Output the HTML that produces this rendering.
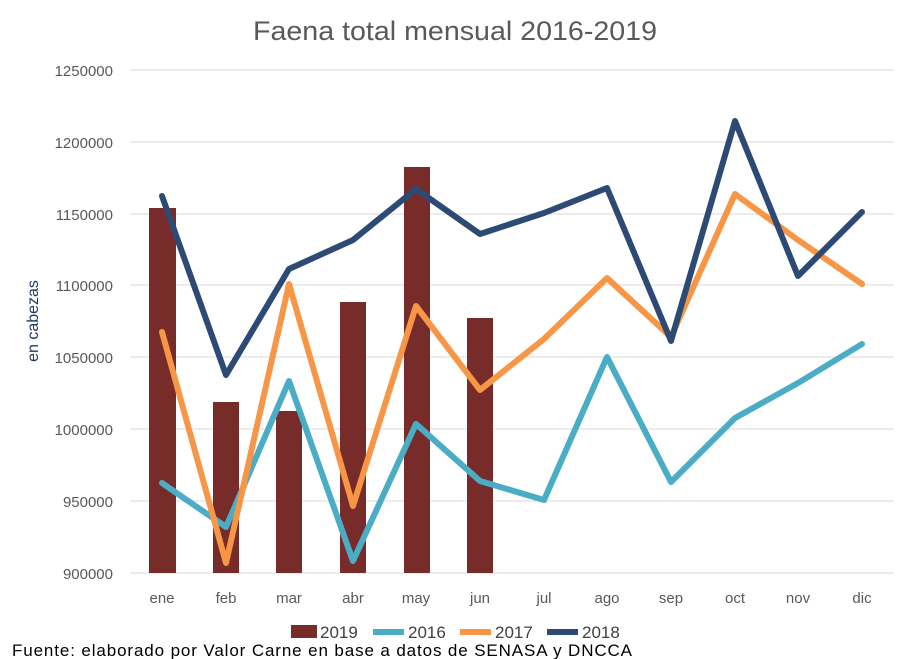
<!DOCTYPE html>
<html><head><meta charset="utf-8"><style>
body{margin:0;background:#fff;}
svg{display:block;font-family:"Liberation Sans",sans-serif;}
</style></head><body>
<svg width="909" height="659" viewBox="0 0 909 659">
<rect width="909" height="659" fill="#fff"/>
<text x="253" y="40" font-size="27" fill="#595959" textLength="404" lengthAdjust="spacingAndGlyphs">Faena total mensual 2016-2019</text>
<g stroke="#d9d9d9" stroke-width="1">
<line x1="130" x2="894" y1="70" y2="70"/><line x1="130" x2="894" y1="142" y2="142"/>
<line x1="130" x2="894" y1="214" y2="214"/><line x1="130" x2="894" y1="285" y2="285"/>
<line x1="130" x2="894" y1="357" y2="357"/><line x1="130" x2="894" y1="429" y2="429"/>
<line x1="130" x2="894" y1="501" y2="501"/><line x1="130" x2="894" y1="573" y2="573"/>
</g>
<g font-size="15" fill="#595959" text-anchor="end">
<text x="113" y="76">1250000</text><text x="113" y="148">1200000</text>
<text x="113" y="220">1150000</text><text x="113" y="291">1100000</text>
<text x="113" y="363">1050000</text><text x="113" y="435">1000000</text>
<text x="113" y="507">950000</text><text x="113" y="579">900000</text>
</g>
<text transform="translate(38,321) rotate(-90)" text-anchor="middle" font-size="16" fill="#1f3864">en cabezas</text>
<g font-size="15" fill="#595959" text-anchor="middle">
<text x="162" y="603">ene</text><text x="226" y="603">feb</text><text x="289" y="603">mar</text>
<text x="353" y="603">abr</text><text x="416" y="603">may</text><text x="480" y="603">jun</text>
<text x="544" y="603">jul</text><text x="607" y="603">ago</text><text x="671" y="603">sep</text>
<text x="735" y="603">oct</text><text x="798" y="603">nov</text><text x="862" y="603">dic</text>
</g>
<g fill="#772c2a">
<rect x="149" y="208" width="27" height="365"/><rect x="213" y="402" width="26" height="171"/>
<rect x="276" y="411" width="26" height="162"/><rect x="340" y="302" width="26" height="271"/>
<rect x="404" y="167" width="26" height="406"/><rect x="467" y="318" width="26" height="255"/>
</g>
<g fill="none" stroke-width="6" stroke-linejoin="round" stroke-linecap="round">
<polyline stroke="#4bacc6" points="162,483 226,527 289,381 353,561 416,424 480,481 544,500 607,357 671,482 735,418 798,383 862,344"/>
<polyline stroke="#f79646" points="162,332 226,563 289,284 353,506 416,306 480,390 544,339 607,278 671,337 735,194 798,240 862,284"/>
<polyline stroke="#2c4a74" points="162,196 226,375 289,269 353,240 416,189 480,234 544,213 607,188 671,341 735,121 798,276 862,212"/>
</g>
<g font-size="17" fill="#404040">
<rect x="291" y="625" width="26" height="13" fill="#772c2a"/><text x="320" y="638">2019</text>
<line x1="373" x2="404" y1="632" y2="632" stroke="#4bacc6" stroke-width="6"/><text x="408" y="638">2016</text>
<line x1="460" x2="491" y1="632" y2="632" stroke="#f79646" stroke-width="6"/><text x="495" y="638">2017</text>
<line x1="547" x2="578" y1="632" y2="632" stroke="#2c4a74" stroke-width="6"/><text x="582" y="638">2018</text>
</g>
<text x="12" y="656" font-size="17" fill="#000" textLength="620" lengthAdjust="spacing">Fuente: elaborado por Valor Carne en base a datos de SENASA y DNCCA</text>
</svg>
</body></html>
